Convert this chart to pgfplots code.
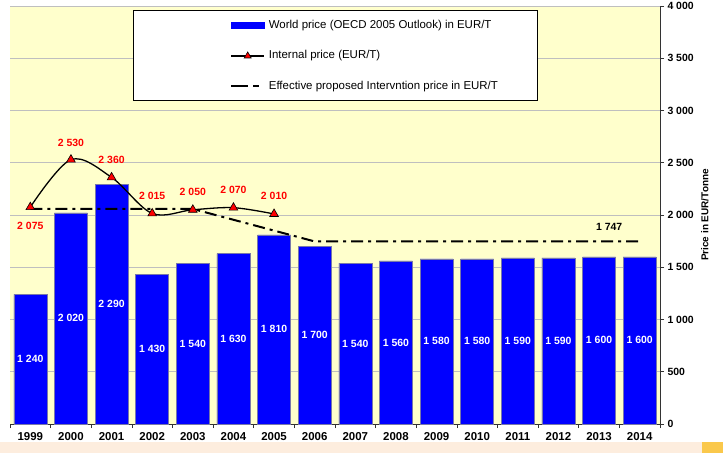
\documentclass[border=0pt]{standalone}
\usepackage{pgfplots}
\pgfplotsset{compat=1.18}
\usepackage{fontspec}
\setmainfont{Liberation Sans}
\definecolor{plotbg}{RGB}{255,255,204}
\definecolor{barblue}{RGB}{0,0,255}
\definecolor{baredge}{RGB}{120,120,170}
\definecolor{peach}{RGB}{253,237,222}
\definecolor{bandorange}{RGB}{250,200,75}
\definecolor{lblred}{RGB}{255,0,0}

\pgfplotstableread{
x  world
0  1240
1  2020
2  2290
3  1430
4  1540
5  1630
6  1810
7  1700
8  1540
9  1560
10 1580
11 1580
12 1590
13 1590
14 1600
15 1600
}\worlddata

\pgfplotstableread{
x  price off
0  2075  -19
1  2530  17
2  2360  18
3  2015  18
4  2050  18
5  2070  18
6  2010  18
}\internaldata

\begin{document}
\begin{tikzpicture}
\path[use as bounding box, fill=white] (-10bp,-29bp) rectangle (713bp,424bp);
\fill[peach] (-10bp,-29bp) rectangle (692bp,-18bp);
\fill[bandorange] (692bp,-29bp) rectangle (713bp,-18bp);
\begin{axis}[
  scale only axis, width=650bp, height=418bp,
  xmin=-0.5, xmax=15.5, ymin=0, ymax=4000,
  axis x line=bottom, axis y line=right,
  x axis line style={-}, y axis line style={-},
  axis line style={black!80, line width=0.7bp},
  axis background/.style={fill=plotbg},
  tick align=outside, major tick length=4bp,
  tick style={black!80, line width=0.6bp},
  ytick={0,500,...,4000},
  ymajorgrids, grid style={draw=black!25, line width=0.6bp},
  xtick={-0.5,0.5,...,15.5}, xticklabels={},
  extra x ticks={0,1,...,15},
  extra x tick labels={1999,2000,2001,2002,2003,2004,2005,2006,2007,2008,2009,2010,2011,2012,2013,2014},
  extra x tick style={major tick length=0pt, tick label style={font=\bfseries\fontsize{11.5}{13}\selectfont, yshift=-5bp}},
  yticklabel style={font=\bfseries\fontsize{10.5}{12}\selectfont},
  /pgf/number format/assume math mode=true,
  /pgf/number format/1000 sep={\ },
  ylabel={Price in EUR/Tonne},
  ylabel style={font=\bfseries\fontsize{10}{12}\selectfont, at={(axis description cs:1.069,0.5)}, anchor=center},
  legend style={draw=none, fill=none, at={(axis description cs:0.3385,0.9659)}, anchor=north west,
    inner sep=0pt, row sep=20.5bp, column sep=4bp, font=\fontsize{11.5}{13}\selectfont,
    nodes={inner sep=0pt, text height=8bp, text depth=2bp}},
  legend cell align=left,
  clip=false,
]
\addplot[ybar, bar width=33bp, fill=barblue, draw=baredge, line width=0.5bp,
  nodes near coords, visualization depends on={rawy\as\rawy},
  every node near coord/.append style={anchor=center, yshift={-0.0524*\rawy},
    font=\bfseries\fontsize{10.5}{12}\selectfont, text=white},
  legend image code/.code={\fill[barblue] (0bp,-3bp) rectangle (33bp,3bp);}]
  table[x=x, y=world] {\worlddata};
\addlegendentry{World price (OECD 2005 Outlook) in EUR/T}

\addplot[black, line width=1.3bp, smooth, tension=0.55, mark=triangle*, mark size=5bp,
  mark options={fill=red, draw=black, line width=0.6bp},
  nodes near coords, visualization depends on={\thisrow{off}\as\off},
  every node near coord/.append style={anchor=center, yshift={\off*1pt},
    font=\bfseries\fontsize{10.5}{12}\selectfont, text=lblred},
  legend image code/.code={\draw[black, line width=1.3bp, mark=triangle*, mark size=4bp,
    mark options={fill=red, draw=black, line width=0.6bp}, mark repeat=2, mark phase=2]
    plot coordinates {(0bp,0bp) (16.5bp,0bp) (33bp,0bp)};}]
  table[x=x, y=price] {\internaldata};
\addlegendentry{Internal price (EUR/T)}

\addplot[black, line width=2bp, dash pattern=on 12bp off 5bp on 3bp off 5bp,
  legend image code/.code={\draw[black, line width=2bp, dash pattern=on 17bp off 5bp on 6bp off 5bp] (0bp,0bp) -- (28bp,0bp);}]
  coordinates {(0,2058) (4,2058) (7,1747) (15,1747)};
\addlegendentry{Effective proposed Intervntion price in EUR/T}

\draw[fill=white, line width=0.6bp] (axis description cs:0.1892,0.9904) rectangle (axis description cs:0.8108,0.7751);
\node[font=\bfseries\fontsize{10.5}{12}\selectfont] at (axis cs:14.25,1885) {1\ 747};
\end{axis}
\end{tikzpicture}
\end{document}
